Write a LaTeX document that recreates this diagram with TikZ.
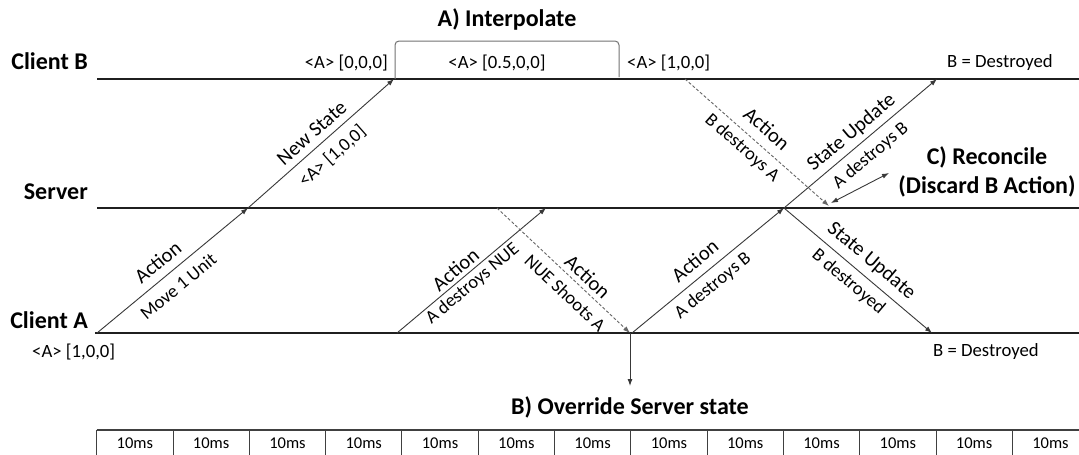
\documentclass[tikz,border=0pt]{standalone}
\usepackage{fontspec}
\setmainfont{Carlito}
\usetikzlibrary{arrows.meta}

\begin{document}
\begin{tikzpicture}[x=1pt,y=-1pt,
  lane/.style={draw=black!88, line width=2pt},
  msg/.style={draw=black!78, line width=0.9pt, -{Latex[length=7pt,width=5pt]}},
  lost/.style={msg, draw=black!60, dash pattern=on 3pt off 2pt},
  twoway/.style={draw=black!78, line width=0.9pt, {Latex[length=7pt,width=5pt]}-{Latex[length=7pt,width=5pt]}},
  brace/.style={draw=black!55, line width=1pt, rounded corners=4pt},
  title/.style={font=\fontsize{24}{29}\selectfont\bfseries, inner sep=0pt},
  state/.style={font=\fontsize{18.7}{22}\selectfont, inner sep=0pt},
  head/.style={sloped, anchor=center, inner sep=0pt, font=\fontsize{20.5}{24}\selectfont},
  sub/.style={sloped, anchor=center, inner sep=0pt, font=\fontsize{18.5}{22}\selectfont},
  cell/.style={font=\fontsize{16.5}{20}\selectfont, inner sep=0pt},
  grid/.style={draw=black!75, line width=1pt}
]
\useasboundingbox (0,0) rectangle (1079,455);
\fill[white] (0,0) rectangle (1079,455);

% lanes
\coordinate (cbL) at (97,79);  \coordinate (cbR) at (1079,79);
\coordinate (svL) at (97,208); \coordinate (svR) at (1079,208);
\coordinate (caL) at (95,333); \coordinate (caR) at (1079,333);
\draw[lane] (cbL) -- (cbR);
\draw[lane] (svL) -- (svR);
\draw[lane] (caL) -- (caR);

\node[title, anchor=east] (nCB) at (88,61)  {Client B};
\node[title, anchor=east] (nSV) at (88,192) {Server};
\node[title, anchor=east] (nCA) at (88,320) {Client A};

% event points
\coordinate (a0) at (97,333);
\coordinate (s1) at (248,208);
\coordinate (b1) at (394,79);
\coordinate (a2) at (397,333);
\coordinate (s2) at (546,208);
\coordinate (s3) at (497,208);
\coordinate (a3) at (630,333);
\coordinate (a4) at (632,333);
\coordinate (s4) at (784,208);
\coordinate (b4) at (937,79);
\coordinate (a5) at (932,333);
\coordinate (b3) at (685,79);
\coordinate (s5) at (829,206);
\coordinate (r0) at (831,203);
\coordinate (r1) at (889,173);
\coordinate (ov) at (630,386);
\coordinate (ib0) at (395,79);
\coordinate (ib1) at (619,77);

% interpolation bracket
\draw[brace] (ib0) -- (395,41) -- (619,41) -- (ib1);
\node[title] (tA) at (507,19) {A) Interpolate};

% states on Client B
\node[state, anchor=east] (st0) at (388,63) {<A> [0,0,0]};
\node[state] (st1) at (497,63) {<A> [0.5,0,0]};
\node[state, anchor=west] (st2) at (627,63) {<A> [1,0,0]};
\node[state, anchor=west] (st3) at (947,63) {B = Destroyed};

% states on Client A
\node[state, anchor=west] (st4) at (32,352) {<A> [1,0,0]};
\node[state, anchor=west] (st5) at (933,352) {B = Destroyed};

% messages
\draw[msg] (a0) -- node[head, pos=.47, yshift=16pt] (m1a) {Action}
                   node[sub, pos=.47, yshift=-16pt] (m1b) {Move 1 Unit} (s1);
\draw[msg] (s1) -- node[head, pos=.5, yshift=14pt] (m2a) {New State}
                   node[sub, pos=.5, yshift=-17pt] (m2b) {<A> [1,0,0]} (b1);
\draw[msg] (a2) -- node[head, pos=.44, yshift=11pt] (m3a) {Action}
                   node[sub, pos=.46, yshift=-11pt] (m3b) {A destroys NUE} (s2);
\draw[lost] (s3) -- node[head, pos=.62, yshift=12pt] (m4a) {Action}
                    node[sub, pos=.59, yshift=-15pt] (m4b) {NUE Shoots A} (a3);
\draw[msg] (a4) -- node[head, pos=.48, yshift=16pt] (m5a) {Action}
                   node[sub, pos=.47, yshift=-15pt] (m5b) {A destroys B} (s4);
\draw[msg] (s4) -- node[head, pos=.5, yshift=14pt] (m6a) {State Update}
                   node[sub, pos=.5, yshift=-16pt] (m6b) {A destroys B} (b4);
\draw[msg] (s4) -- node[head, pos=.52, yshift=16pt] (m7a) {State Update}
                   node[sub, pos=.5, yshift=-15pt] (m7b) {B destroyed} (a5);
\draw[lost] (b3) -- node[head, pos=.49, yshift=17pt] (m8a) {Action}
                    node[sub, pos=.46, yshift=-14pt] (m8b) {B destroys A} (s5);

% reconcile
\draw[twoway] (r0) -- (r1);
\node[title, align=center] (tC) at (987,172) {C) Reconcile\\(Discard B Action)};

% override
\draw[msg] (a3) -- (ov);
\node[title] (tB) at (630,407) {B) Override Server state};

% time scale
\draw[grid, line width=1.5pt] (96.7,430) -- (1079,430);
\foreach \k in {0,...,12}{
  \draw[grid] ({96.7+76.3*\k},430) -- ({96.7+76.3*\k},456);
  \node[cell] (ms\k) at ({96.7+76.3*\k+38.15},443) {10ms};
}
\end{tikzpicture}
\end{document}
